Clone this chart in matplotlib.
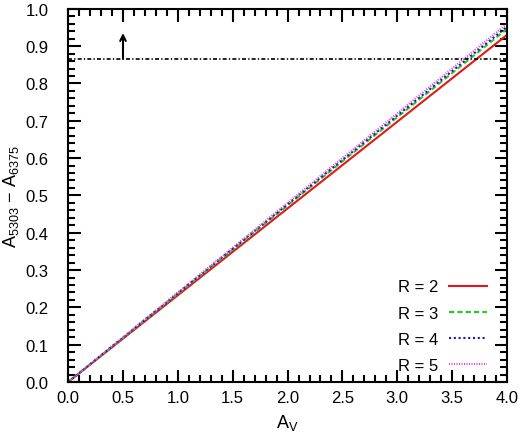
import matplotlib
matplotlib.use("Agg")
import matplotlib.pyplot as plt
from matplotlib.ticker import MultipleLocator

plt.rcParams['font.family'] = ['Liberation Sans', 'DejaVu Sans']
plt.rcParams['mathtext.fontset'] = 'custom'
plt.rcParams['mathtext.rm'] = 'Liberation Sans'

av = [0.0, 1.0, 2.0, 3.0, 4.0]
r_labels = ["R = 2", "R = 3", "R = 4", "R = 5"]
r_values = [
    [0.0, 0.2325, 0.465, 0.6975, 0.930],
    [0.0, 0.2365, 0.473, 0.7095, 0.946],
    [0.0, 0.238, 0.476, 0.714, 0.952],
    [0.0, 0.240, 0.480, 0.720, 0.960],
]
colors = ["#e8141c", "#1ed21e", "#1a1aa8", "#e040e0"]
styles = ["-", (0, (2.5, 1.5)), (0, (1.0, 1.3)), (0, (0.5, 0.7))]
limit_y = 0.866
arrow_top = 0.935
arrow_x = 0.5

fig = plt.figure(figsize=(5.2, 4.35), dpi=100)
ax = fig.add_axes([0.131, 0.1195, 0.844, 0.858])

for vals, lab, c, ls in zip(r_values, r_labels, colors, styles):
    ax.plot(av, vals, color=c, linestyle=ls, lw=1.5, label=lab)

ax.axhline(limit_y, color="black", lw=1.2, linestyle=(0, (2.4, 1.3, 0.8, 1.3)))
ax.annotate("", xy=(arrow_x, arrow_top), xytext=(arrow_x, limit_y),
            arrowprops=dict(arrowstyle="->", color="black", lw=1.5,
                            shrinkA=0, shrinkB=0))

ax.set_xlim(0, 4)
ax.set_ylim(0, 1)
ax.xaxis.set_major_locator(MultipleLocator(0.5))
ax.xaxis.set_minor_locator(MultipleLocator(0.1))
ax.yaxis.set_major_locator(MultipleLocator(0.1))
ax.yaxis.set_minor_locator(MultipleLocator(0.02))
ax.xaxis.set_major_formatter(plt.FormatStrFormatter("%.1f"))
ax.yaxis.set_major_formatter(plt.FormatStrFormatter("%.1f"))
ax.tick_params(which="both", direction="in", top=True, right=True, width=1.5, labelsize=12)
ax.tick_params(which="major", length=9)
ax.tick_params(which="minor", length=5)
ax.tick_params(axis="x", which="major", pad=6)
ax.tick_params(axis="y", which="major", pad=14)
for s in ax.spines.values():
    s.set_linewidth(1.5)

ax.set_xlabel(r"A$_{\rm V}$", fontsize=13, labelpad=5)
ax.set_ylabel(r"A$_{5303}$ $-$ A$_{6375}$", fontsize=13, labelpad=3)

ax.legend(loc="lower right", bbox_to_anchor=(0.975, 0.0), frameon=False,
          markerfirst=False, fontsize=12, handlelength=2.3, handletextpad=0.6,
          labelspacing=0.67, borderaxespad=0.2, borderpad=0.35)

fig.savefig("out.png", dpi=100)
